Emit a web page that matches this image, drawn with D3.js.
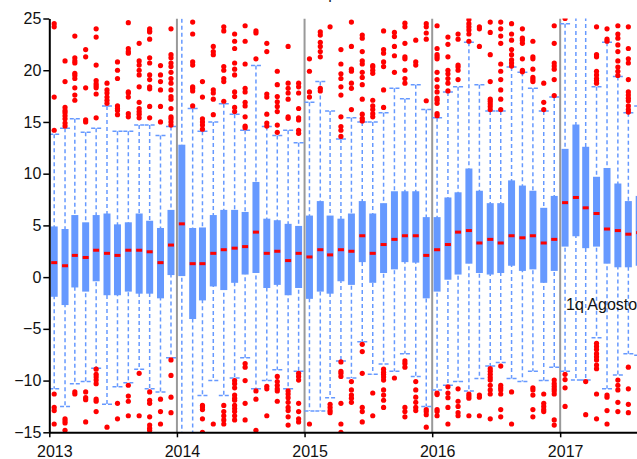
<!DOCTYPE html>
<html>
<head>
<meta charset="utf-8">
<script src="https://cdn.jsdelivr.net/npm/d3@7"></script>
<style>
  body { margin: 0; background: #fff; }
  svg text { font-family: "Liberation Sans", Arial, sans-serif; }
</style>
</head>
<body>
<script>

// one box per month, Jan 2013 .. Aug 2017
var months = [
  "2013-01","2013-02","2013-03","2013-04","2013-05","2013-06","2013-07","2013-08","2013-09","2013-10","2013-11","2013-12",
  "2014-01","2014-02","2014-03","2014-04","2014-05","2014-06","2014-07","2014-08","2014-09","2014-10","2014-11","2014-12",
  "2015-01","2015-02","2015-03","2015-04","2015-05","2015-06","2015-07","2015-08","2015-09","2015-10","2015-11","2015-12",
  "2016-01","2016-02","2016-03","2016-04","2016-05","2016-06","2016-07","2016-08","2016-09","2016-10","2016-11","2016-12",
  "2017-01","2017-02","2017-03","2017-04","2017-05","2017-06","2017-07","2017-08"
];

var q1 = [
  -1.9,-2.7,-1.0,-1.4,-0.4,-1.75,-1.75,-1.4,-1.6,-1.6,-2.05,0.2,
  0.1,-4.05,-2.25,-0.9,-1.25,-0.55,0.25,0.4,-1.05,-0.75,-1.75,-1.05,
  -2.1,-1.4,-1.6,-0.4,-0.75,1.45,-0.55,0.4,0.75,1.45,1.4,-2.05,
  -1.4,-0.25,0.25,1.3,0.4,0.25,0.4,1.1,0.6,0.75,-0.55,0.6,
  2.95,3.95,2.8,2.95,1.3,0.95,0.95,1.1
];
var med = [
  1.4,1.1,2.1,1.9,2.6,2.3,2.1,2.6,2.6,2.45,1.4,3.1,
  5.15,1.3,1.3,2.3,2.65,2.8,2.95,4.35,2.3,2.5,1.6,2.3,
  1.95,2.65,2.15,2.65,2.5,4.0,2.3,3.15,3.65,4.0,4.0,2.1,
  2.65,3.15,4.35,4.5,3.3,3.65,3.3,4.0,3.8,4.0,3.3,3.65,
  7.2,7.7,6.7,6.15,4.65,4.5,4.15,4.3
];
var q3 = [
  4.9,4.65,6.0,5.3,6.0,6.15,5.1,5.3,6.15,5.45,4.75,6.5,
  12.8,4.75,4.8,6.0,6.5,6.5,6.3,9.2,5.65,5.5,5.15,4.95,
  5.95,7.35,5.95,5.65,6.15,7.35,6.15,7.15,8.3,8.3,8.3,5.8,
  5.8,7.7,8.2,10.5,8.35,7.15,7.15,9.35,8.85,8.35,6.7,7.85,
  12.4,14.75,12.6,9.7,10.55,9.05,7.35,7.85
];
var whiskLo = [
  -10.8,-12.5,-10.3,-10.1,-8.8,-12.3,-10.6,-10.2,-8.9,-10.8,-11.1,-7.8,
  -17,-16.5,-11.45,-10.0,-11.45,-9.75,-7.8,-10.8,-10.0,-8.95,-10.8,-9.1,
  -12.95,-12.95,-11.65,-8.1,-9.75,-6.25,-9.4,-8.4,-9.1,-7.4,-9.6,-12.5,
  -10.9,-10.45,-10.1,-11.0,-9.8,-8.6,-8.25,-9.8,-10.1,-9.1,-10.0,-8.7,
  -9.1,-9.95,-9.95,-5.85,-10.8,-9.45,-7.4,-7.55
];
var whiskHi = [
  13.8,14.4,15.3,14.0,14.4,16.55,14.1,14.1,14.7,14.7,13.7,14.55,
  27,16.3,14.1,15.0,16.75,15.75,14.2,20.45,14.55,13.7,14.2,13.0,
  16.9,18.9,16.05,13.35,15.4,15.0,15.0,15.9,18.25,17.25,18.6,16.2,
  15.4,17.9,18.4,22.7,18.6,16.05,16.05,20.3,19.8,18.25,16.05,17.4,
  24.5,26.5,26.5,18.4,22.7,19.4,15.9,16.55
];

var outliers = [
  [24.5,24.2,17.4,14.2,-11.3,-12.6,-12.9,-14.2],
  [20.9,18.9,16.4,16.1,15.9,15.6,15.3,14.9,14.6,-13.7,-13.9,-14.1,-14.8],
  [23.3,21.2,20.9,20.7,19.7,19.5,19.2,18.3,17.6,17.1,-11.1,-11.3],
  [22.0,21.3,18.3,15.2,15.0,-11.1,-11.65,-11.85,-14.0],
  [24.0,23.2,20.5,19.0,18.7,18.5,18.3,17.7,15.4,-8.9,-9.4,-9.65,-9.95,-10.3,-11.8,-12.0,-13.0],
  [18.75,18.1,17.8,17.4,17.1,16.8,-14.5],
  [20.8,20.0,19.2,16.55,16.3,16.1,15.7,-12.2,-13.7],
  [24.6,22.1,21.8,21.65,17.9,17.8,17.4,15.8,15.5,-10.45,-11.5,-12.0,-13.4],
  [22.6,20.9,20.5,20.0,19.55,18.4,16.9,16.3,16.0,15.75,15.4,-9.3,-13.4],
  [24.0,23.8,23.7,23.0,21.2,20.7,19.55,19.1,18.4,18.2,16.5,15.4,-11.1,-11.9,-12.2,-13.5,-14.3,-14.6,-14.8],
  [20.45,19.55,18.9,18.1,16.5,15.0,-11.8,-13.0,-14.2],
  [24.0,21.5,21.2,20.7,20.35,19.8,19.2,18.75,18.1,17.45,17.2,16.3,15.5,15.3,15.0,14.7,-8.0,-9.5,-11.6,-13.1],
  [],
  [24.65,23.5,20.8,20.5,18.4,18.25,18.0,16.55],
  [18.9,17.4,15.3,15.0,14.7,14.3,-12.4,-12.55,-12.8,-13.7,-15.0],
  [22.3,21.8,21.5,18.1,17.8,17.2,15.7,-14.2],
  [24.2,23.8,20.35,20.0,19.2,18.9,17.0,-12.4,-13.0,-13.4,-13.8,-14.2],
  [23.5,22.8,22.1,20.7,20.1,19.55,17.9,17.45,16.4,16.0,-10.0,-10.3,-10.7,-11.4,-11.7,-11.9,-12.4,-12.7,-13.0,-13.4,-13.8],
  [24.3,22.8,20.6,18.25,17.9,16.9,16.55,15.5,14.6,14.45,-8.35,-8.7,-10.0,-12.2,-13.8],
  [23.8,23.6,21.1,-11.0,-11.8,-14.8],
  [22.6,21.8,17.7,17.4,15.75,14.9,14.6,-10.55,-10.8,-13.4],
  [19.9,18.6,17.45,16.95,16.5,16.0,14.7,14.0,-9.6,-10.1,-10.45,-10.8,-11.0,-12.0],
  [22.3,18.75,18.25,17.8,17.2,15.5,15.35,-11.0,-11.3,-11.65,-12.1,-12.6,-12.9,-13.5,-14.3],
  [18.75,18.4,17.8,16.3,15.4,15.2,14.2,13.9,-9.3,-9.6,-9.95,-12.2,-13.0,-13.7,-14.0],
  [21.1,19.9,17.9,17.4,-14.2],
  [23.7,23.4,22.7,22.3,21.8,21.3,18.25,18.0],
  [24.2,-12.3,-12.6,-12.9,-13.1],
  [22.0,20.6,19.65,19.2,18.4,17.6,15.5,14.55,14.2,13.6,-8.2,-9.1,-9.3,-9.6,-12.2,-14.2,-15.0],
  [24.65,22.3,20.1,19.9,18.75,18.25,16.2,-10.1,-10.9,-11.4,-11.7,-12.1],
  [23.4,23.1,21.8,20.9,20.6,19.8,19.3,18.6,17.2,15.75,15.35,15.1,-6.5,-7.2,-9.3,-12.6,-13.0,-14.0],
  [20.45,20.3,20.0,19.7,17.1,16.55,16.2,15.8,15.5,-11.2,-13.4],
  [23.8,22.0,21.65,20.8,20.35,18.1,16.4,-8.9,-9.2,-9.4,-9.65,-9.95,-10.9,-11.4,-11.9,-12.6],
  [23.65,23.25,22.3,21.4,19.8,-9.75],
  [24.55,24.2,22.6,21.3,21.1,20.0,19.2,18.75,-8.1,-8.35,-8.7,-12.6,-13.0,-13.5],
  [22.9,20.8,20.5,-10.1,-10.9,-11.6,-12.1,-12.6,-12.9],
  [24.5,24.2,23.6,23.0,17.05,-12.8,-13.0,-13.3,-14.5],
  [24.3,22.1,21.5,21.3,21.1,19.8,19.1,18.4,17.9,17.3,17.1,16.8,15.8,15.6,-11.2,-11.35,-12.8,-13.0,-13.4],
  [23.2,22.5,21.3,20.0,19.65,19.2,18.75,18.0,-10.6,-11.2,-11.65,-12.6,-14.2],
  [23.5,23.0,20.5,20.3,20.0,19.1,-10.8,-12.0,-12.5,-13.1,-13.4],
  [24.9,24.5,24.2,23.9,23.5,22.8,-11.3,-11.5,-11.7,-13.4],
  [24.2,24.0,22.3,-11.4,-11.6,-13.4],
  [24.65,23.65,21.5,18.9,17.2,17.0,16.75,16.5,16.2,-8.85,-9.1,-9.4,-9.7,-9.95,-10.45,-10.9,-11.3,-13.7],
  [24.65,24.0,23.3,22.6,20.6,19.9,19.1,18.1,17.2,16.2,-8.6,-10.45,-10.7,-10.9,-11.3,-12.8,-13.5],
  [24.5,23.5,22.9,22.0,21.5,21.0,20.7,20.4,-11.1,-14.2],
  [24.0,23.1,22.9,22.6,21.1,20.0,19.85],
  [22.8,21.3,21.1,20.1,19.3,19.1,18.9,-10.7,-10.9,-11.4,-12.8,-13.5],
  [18.75,16.9,16.2,-11.3,-12.2,-12.5,-12.8,-13.0],
  [24.3,22.6,20.7,20.4,20.1,19.1,17.55,-9.95,-10.3,-10.55,-10.8,-11.0,-11.3,-13.8,-14.3],
  [25.0,-9.4,-9.9,-10.7,-12.5],
  [],
  [-10.1,-13.3],
  [24.2,21.5,21.3,19.9,19.55,19.2,19.0,18.75,-6.4,-6.7,-7.0,-7.4,-7.7,-8.0,-8.5,-8.85,-11.3,-13.7],
  [24.0,23.0,22.8,-11.4,-11.6,-12.9,-14.2],
  [24.3,23.5,23.1,22.45,21.8,20.9,20.3,19.9,19.5,-9.95,-10.45,-10.9,-12.1,-13.0],
  [24.2,22.1,21.1,20.7,19.1,17.9,17.6,17.3,17.05,16.55,16.2,15.95,-8.7,-10.8,-12.3,-13.1],
  []
];

var yTicks = [-15, -10, -5, 0, 5, 10, 15, 20, 25];
var yearTicks = [2013, 2014, 2015, 2016, 2017];
var titleText = "Temperatura";
var noteText = "1q Agosto";

var width = 637,
    height = 459,
    plotLeft = 49.3,
    plotTop = 18.5,
    plotBottom = 432.3,
    boxW = 7,
    capW = 10;

var blue = "#6699ff",
    red = "#ff0000";

var parse = d3.timeParse("%Y-%m");

var data = months.map(function(m, i) {
  var d = parse(m);
  return {
    date: new Date(d.getFullYear(), d.getMonth(), 15),
    q1: q1[i], med: med[i], q3: q3[i],
    lo: whiskLo[i], hi: whiskHi[i],
    out: outliers[i]
  };
});

var x = d3.scaleTime()
  .domain([new Date(2013, 0, 1), new Date(2018, 0, 1)])
  .range([plotLeft, plotLeft + 5 * 127.7]);

var y = d3.scaleLinear()
  .domain([-15, 25])
  .range([plotBottom, plotTop]);

var svg = d3.select('body').append('svg')
  .attr('width', width)
  .attr('height', height);

svg.append('defs').append('clipPath').attr('id', 'plot')
  .append('rect')
  .attr('x', plotLeft).attr('y', plotTop)
  .attr('width', width - plotLeft).attr('height', plotBottom - plotTop);

// title sits mostly above the visible area
svg.append('text')
  .attr('x', 343)
  .attr('y', -1.5)
  .attr('text-anchor', 'middle')
  .style('font-size', '16px')
  .style('fill', '#222')
  .text(titleText);

var plot = svg.append('g').attr('clip-path', 'url(#plot)');

// year separators
plot.selectAll('.yearline')
  .data(yearTicks.slice(1))
  .enter().append('line')
  .attr('x1', function(d) { return x(new Date(d, 0, 1)); })
  .attr('x2', function(d) { return x(new Date(d, 0, 1)); })
  .attr('y1', plotTop)
  .attr('y2', plotBottom)
  .style('stroke', '#999')
  .style('stroke-width', 2);

var box = plot.selectAll('.box')
  .data(data)
  .enter().append('g')
  .attr('class', 'box')
  .attr('transform', function(d) { return 'translate(' + x(d.date) + ',0)'; });

// whiskers
box.append('line')
  .attr('x1', 0).attr('x2', 0)
  .attr('y1', function(d) { return y(d.hi); })
  .attr('y2', function(d) { return y(d.lo); })
  .style('stroke', blue)
  .style('stroke-width', 1.5)
  .style('stroke-dasharray', '4,3');

box.selectAll('.cap')
  .data(function(d) { return [d.lo, d.hi]; })
  .enter().append('line')
  .attr('x1', -capW / 2).attr('x2', capW / 2)
  .attr('y1', function(v) { return y(v); })
  .attr('y2', function(v) { return y(v); })
  .style('stroke', blue)
  .style('stroke-width', 1.5)
  .style('stroke-dasharray', '4,2');

box.append('rect')
  .attr('x', -boxW / 2)
  .attr('width', boxW)
  .attr('y', function(d) { return y(d.q3); })
  .attr('height', function(d) { return y(d.q1) - y(d.q3); })
  .style('fill', blue);

box.append('rect')
  .attr('x', -3)
  .attr('width', 6)
  .attr('y', function(d) { return y(d.med) - 1.5; })
  .attr('height', 3)
  .style('fill', red);

box.selectAll('.dot')
  .data(function(d) { return d.out; })
  .enter().append('circle')
  .attr('cx', 0)
  .attr('cy', function(v) { return y(v); })
  .attr('r', 2.6)
  .style('fill', red);

// axes
var yAxis = d3.axisLeft(y).tickValues(yTicks).tickSize(6).tickSizeOuter(0);
var gy = svg.append('g')
  .attr('transform', 'translate(' + plotLeft + ',0)')
  .call(yAxis);
gy.select('.domain').style('stroke', '#000').style('stroke-width', 2);
gy.selectAll('.tick line').style('stroke', '#000').style('stroke-width', 1.5);
gy.selectAll('text').style('font-size', '16px').style('fill', '#111').attr('x', -8);

var xAxis = d3.axisBottom(x)
  .tickValues(yearTicks.map(function(d) { return new Date(d, 0, 1); }))
  .tickFormat(d3.timeFormat('%Y'))
  .tickSize(5)
  .tickSizeOuter(0);
var gx = svg.append('g')
  .attr('transform', 'translate(0,' + plotBottom + ')')
  .call(xAxis);
gx.select('.domain').style('stroke', '#000').style('stroke-width', 2);
gx.selectAll('.tick line').style('stroke', '#000').style('stroke-width', 1.5);
gx.selectAll('text')
  .style('font-size', '16px')
  .style('fill', '#111')
  .attr('dx', 5)
  .attr('y', 25)
  .attr('dy', 0);

svg.append('text')
  .attr('x', 566)
  .attr('y', 310)
  .style('font-size', '16px')
  .style('fill', '#111')
  .text(noteText);

</script>
</body>
</html>
